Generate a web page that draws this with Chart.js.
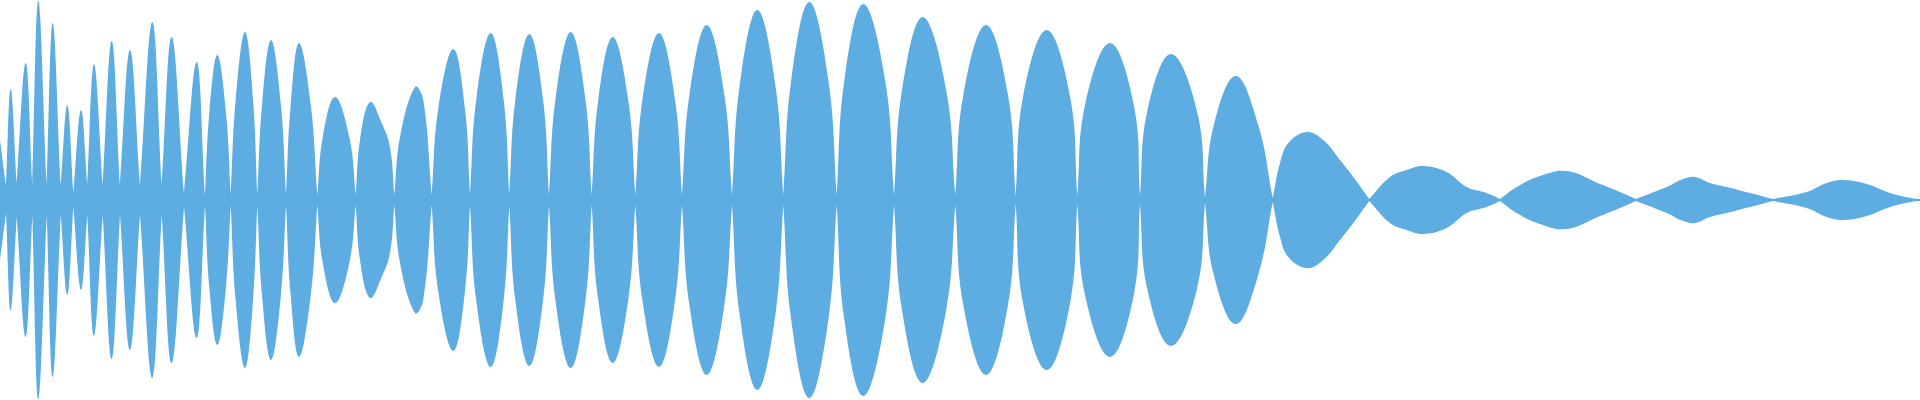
<!DOCTYPE html>
<html>
<head>
<meta charset="utf-8">
<title>Waveform</title>
<script src="https://cdn.jsdelivr.net/npm/chart.js@4.4.0/dist/chart.umd.min.js"></script>
<style>
    html, body { margin: 0; padding: 0; background: #ffffff; }
    #wave-wrap { width: 1920px; height: 400px; position: relative; }
</style>
</head>
<body>
<div id="wave-wrap"><canvas id="wave-chart"></canvas></div>
<script>
// --- Envelope of the waveform ---
// Position along the clip (sample index, 0..1920) of each envelope point.
// One line per lobe (or group of small lobes), same layout as envelopeAmp.
const envelopeX = [
    0, 6, 10.7, 16.7, 25.7, 32.3, 38.3, 46.7, 52.7, 60.7,
    67.3, 73.3, 81, 87.3, 94, 102.7, 111.7, 120, 130, 140,
    152.3, 161.7, 171.7, 184, 196.7, 205,
    209.3, 217.3, 226.0, 230.7,
    235.7, 245, 253.0, 257.3,
    262.1, 271, 280.8, 286,
    290.6, 299, 310.9, 317.3,
    322.6, 335, 349.5, 355.7,
    360, 370, 381.7, 390, 394.3,
    400, 415, 423.3, 431.7,
    438.2, 453.3, 465.0, 470,
    476.2, 490.7, 503.7, 509.3,
    515.3, 529.3, 543.1, 549,
    555.5, 570.7, 585.4, 591.7,
    598.0, 612.7, 628.5, 635.3,
    642.4, 659, 675.1, 682,
    689.4, 706.7, 724.4, 732,
    739.6, 757.3, 775.5, 783.3,
    791.1, 809.3, 828.5, 836.7,
    844.1, 863.3, 885.4, 894,
    902.0, 922.7, 946.2, 955.3,
    963.3, 986, 1008.0, 1015.7,
    1022.8, 1046.7, 1070.3, 1077.3,
    1084.8, 1110, 1134, 1140,
    1147.1, 1171, 1197.2, 1205,
    1213.6, 1235.7, 1258.5, 1272.7,
    1280, 1288.3, 1306.7, 1323.3, 1340, 1353.3, 1369.3,
    1390, 1406.7, 1423.3, 1446.7, 1466.7, 1486.7, 1500,
    1516.7, 1540, 1566.7, 1600, 1620, 1636,
    1666.7, 1683.3, 1695, 1710, 1726.7, 1750, 1773.3,
    1806.7, 1826.7, 1843.3, 1866.7, 1890, 1913.3, 1920
];

// Peak amplitude (0..1) at each of those points.
const envelopeAmp = [
    0.30, 0.065, 0.555, 0.085, 0.685, 0.08, 0.995, 0.075, 0.885, 0.075,
    0.475, 0.035, 0.45, 0.075, 0.68, 0.075, 0.795, 0.075, 0.75, 0.075,
    0.89, 0.075, 0.815, 0.035, 0.69, 0.025,
    0.435, 0.725, 0.435, 0.025,
    0.505, 0.84, 0.505, 0.025,
    0.48, 0.80, 0.48, 0.025,
    0.47, 0.785, 0.47, 0.025,
    0.31, 0.515, 0.31, 0.025,
    0.30, 0.49, 0.385, 0.265, 0.025,
    0.315, 0.565, 0.50, 0.025,
    0.455, 0.755, 0.455, 0.025,
    0.50, 0.835, 0.50, 0.025,
    0.50, 0.83, 0.50, 0.025,
    0.505, 0.84, 0.505, 0.025,
    0.49, 0.815, 0.49, 0.025,
    0.50, 0.835, 0.50, 0.025,
    0.525, 0.875, 0.525, 0.025,
    0.57, 0.95, 0.57, 0.025,
    0.595, 0.99, 0.595, 0.025,
    0.59, 0.98, 0.59, 0.025,
    0.55, 0.915, 0.55, 0.025,
    0.525, 0.875, 0.525, 0.02,
    0.51, 0.85, 0.51, 0.02,
    0.47, 0.785, 0.47, 0.02,
    0.44, 0.73, 0.44, 0.015,
    0.37, 0.62, 0.37, 0.01,
    0.185, 0.285, 0.34, 0.30, 0.20, 0.115, 0.005,
    0.115, 0.15, 0.17, 0.14, 0.065, 0.035, 0.005,
    0.065, 0.12, 0.145, 0.08, 0.04, 0.005,
    0.065, 0.105, 0.115, 0.085, 0.065, 0.035, 0.005,
    0.04, 0.085, 0.10, 0.08, 0.035, 0.0075, 0.005
];

// Positions where two lobes pinch together (sharp corners of the envelope).
const pinchX = [
    6, 16.7, 32.3, 46.7, 60.7, 73.3, 87.3, 102.7, 120, 140,
    161.7, 184, 205, 230.7, 257.3, 286, 317.3, 355.7, 394.3, 431.7,
    470, 509.3, 549, 591.7, 635.3, 682, 732, 783.3, 836.7, 894,
    955.3, 1015.7, 1077.3, 1140, 1205, 1272.7, 1369.3, 1500, 1636, 1773.3
];

const waveColor = '#5DADE2';

// Builds the point list for one side of the envelope.
// Pinch points are doubled so the curve keeps a sharp corner there.
const buildSide = (sign) => {
    const points = [];
    envelopeX.forEach((x, i) => {
        const point = { x: x, y: sign * envelopeAmp[i] };
        points.push(point);
        if (pinchX.includes(x)) {
            points.push({ x: x, y: point.y });
        }
    });
    return points;
};

const ctx = document.getElementById('wave-chart').getContext('2d');
const waveChart = new Chart(ctx, {
    type: 'line',
    data: {
        datasets: [
            {
                label: 'upper',
                data: buildSide(1),
                backgroundColor: waveColor,
                borderColor: 'rgba(0,0,0,0)',
                borderWidth: 0,
                pointRadius: 0,
                tension: 0.4,
                fill: '+1'
            },
            {
                label: 'lower',
                data: buildSide(-1),
                backgroundColor: waveColor,
                borderColor: 'rgba(0,0,0,0)',
                borderWidth: 0,
                pointRadius: 0,
                tension: 0.4,
                fill: false
            }
        ]
    },
    options: {
        responsive: true,
        maintainAspectRatio: false,
        animation: false,
        layout: { padding: 0 },
        plugins: {
            legend: { display: false },
            tooltip: { enabled: false }
        },
        scales: {
            x: { type: 'linear', min: 0, max: 1920, display: false },
            y: { min: -1, max: 1, display: false }
        }
    }
});
</script>
</body>
</html>
